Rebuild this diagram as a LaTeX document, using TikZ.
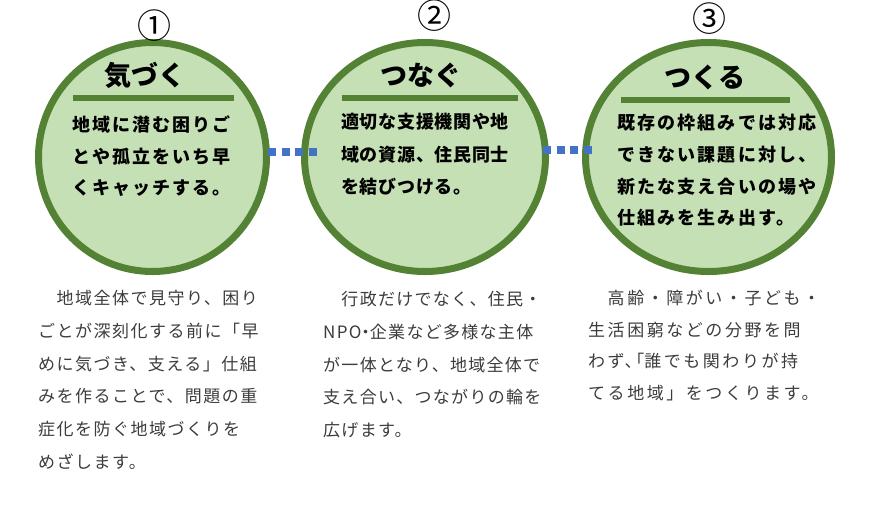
\documentclass[tikz,border=0pt]{standalone}
\usepackage{fontspec}
\setmainfont{Noto Sans CJK JP}
\usetikzlibrary{shapes.geometric}
\definecolor{cfill}{HTML}{C5E0B4}
\definecolor{cedge}{HTML}{548235}
\definecolor{cdot}{HTML}{4472C4}
\definecolor{ctext}{HTML}{3C3C3C}
\newcommand\halfw[1]{{\addfontfeature{RawFeature=+halt}#1}}
\tikzset{
  circ/.style={ellipse, draw=cedge, fill=cfill, line width=7pt, minimum width=#1, minimum height=229pt, inner sep=0pt},
  numlabel/.style={inner sep=0pt, text height=25.8pt, text depth=0pt, font=\fontsize{34}{34}\selectfont},
  title/.style={inner sep=0pt, text height=20.5pt, text depth=0pt, font=\fontsize{27}{27}\selectfont\bfseries},
  bar/.style={draw=cedge, line width=6.5pt},
  bodyline/.style={anchor=west, inner sep=0pt, text height=13.7pt, text depth=0pt, font=\fontsize{18}{18}\selectfont\bfseries\addfontfeature{LetterSpace=#1}},
  lowline/.style={anchor=west, inner sep=0pt, text height=12.9pt, text depth=0pt, text=ctext, font=\fontsize{17}{17}\selectfont\addfontfeature{LetterSpace=#1}},
  dots/.style={draw=cdot, line width=8pt, dash pattern=on 8pt off 5.5pt},
}
\newcommand\textlines[6]{%
  \foreach \t [count=\i from 0] in {#6} {\node[#5] (#1-\i) at (#2, {#3+\i*#4}) {\t};}%
}
\begin{document}
\begin{tikzpicture}[x=1pt, y=-1pt]
\useasboundingbox (0,0) rectangle (880,509);
\fill[white] (0,0) rectangle (880,509);

% circles
\node[circ=228pt] (c1) at (152.5,157) {};
\node[circ=241pt] (c2) at (425,157) {};
\node[circ=246pt] (c3) at (708.5,157) {};

% connectors
\draw[dots] ([shift={(-2,-5)}]c1.east) -- ([shift={(16,-5)}]c2.west);
\draw[dots] ([shift={(-6,-7)}]c2.east) -- ([shift={(11,-7)}]c3.west);

% numbers
\node[numlabel] (n1) at (154,26) {①};
\node[numlabel] (n2) at (434,16) {②};
\node[numlabel] (n3) at (709,19) {③};

% titles
\node[title] (t1) at (145,75) {気づく};
\node[title] (t2) at (421,75) {つなぐ};
\node[title] (t3) at (705,77) {つくる};

% bars
\draw[bar] (73,98) -- (234,98);
\draw[bar] (342,98) -- (518,98);
\draw[bar] (621,100) -- (790,100);

% body text in circles
\textlines{b1}{72}{125}{31.5}{bodyline=11}{地域に潜む困りご, とや孤立をいち早, くキャッチする。}
\textlines{b2}{341}{122}{32.5}{bodyline=4}{適切な支援機関や地, 域の資源、住民同士, を結びつける。}
\textlines{b3}{617}{123}{31.7}{bodyline=12}{既存の枠組みでは対応, できない課題に対し、, 新たな支え合いの場や, 仕組みを生み出す。}

% lower text
\textlines{l1}{38}{298}{32.8}{lowline=8.8}{　地域全体で見守り、困り, ごとが深刻化する前に「早, めに気づき、支える」仕組, みを作ることで、問題の重, 症化を防ぐ地域づくりを, めざします。}
\textlines{l2}{323}{299}{32.8}{lowline=7.6}{　行政だけでなく、住民・, NPO\halfw{・}企業など多様な主体, が一体となり、地域全体で, 支え合い、つながりの輪を, 広げます。}
\textlines{l3}{588}{298}{31.7}{lowline=15}{　高齢・障がい・子ども・, 生活困窮などの分野を問, わず\halfw{、「}誰でも関わりが持, てる地域」をつくります。}
\end{tikzpicture}
\end{document}
